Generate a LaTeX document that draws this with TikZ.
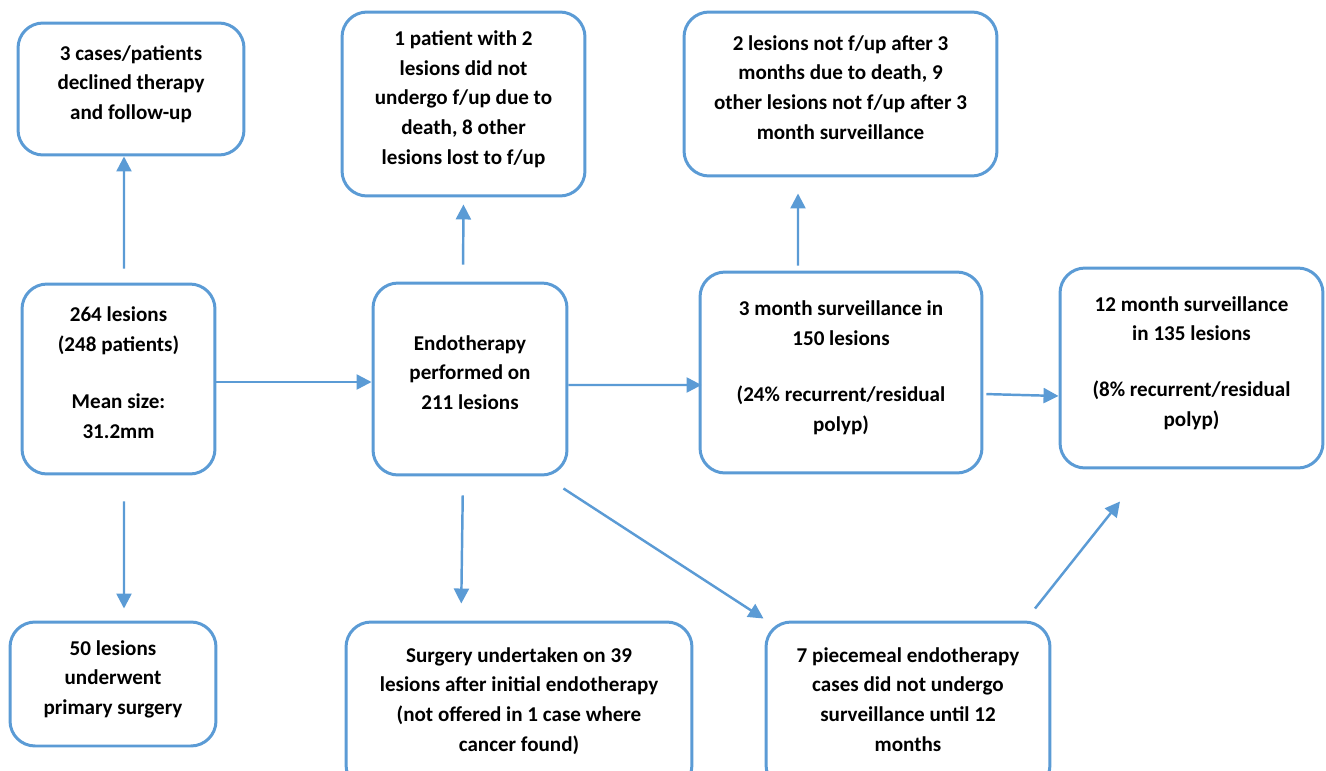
\documentclass[tikz,border=0pt]{standalone}
\usepackage{fontspec}
\setmainfont{Carlito}
\usetikzlibrary{arrows.meta,positioning,calc}
\definecolor{boxblue}{RGB}{91,155,213}

\begin{document}
\begin{tikzpicture}[x=0.02cm, y=-0.02cm,
    box/.style={draw=boxblue, line width=1.7pt, rounded corners=0.5cm, fill=white, align=center,
        text depth=0.26cm, font=\fontsize{12}{17}\selectfont\bfseries},
    arr/.style={-{Triangle[length=0.3cm, width=0.3cm]}, draw=boxblue, line width=1.4pt}]

    \useasboundingbox (0,0) rectangle (1326,771);

    \node[box, minimum width=4.52cm, minimum height=2.64cm] (decl) at (131,89) {3 cases/patients\\declined therapy\\and follow-up};
    \node[box, minimum width=3.86cm, minimum height=3.8cm] (lesions) at (118.5,379) {264 lesions\\(248 patients)\\[0.55cm]Mean size:\\31.2mm};
    \node[box, minimum width=4.12cm, minimum height=2.48cm] (primsurg) at (113,684) {50 lesions\\underwent\\primary surgery};
    \node[box, minimum width=4.86cm, minimum height=3.68cm] (lost) at (463.5,104) {1 patient with 2\\lesions did not\\undergo f/up due to\\death, 8 other\\lesions lost to f/up};
    \node[box, minimum width=3.88cm, minimum height=3.84cm] (endo) at (470,379) {Endotherapy\\performed on\\211 lesions};
    \node[box, minimum width=6.92cm, minimum height=3.36cm] (surg) at (519,706) {Surgery undertaken on 39\\lesions after initial endotherapy\\(not offered in 1 case where\\cancer found)};
    \node[box, minimum width=6.26cm, minimum height=3.28cm] (nofup) at (840.5,94) {2 lesions not f/up after 3\\months due to death, 9\\other lesions not f/up after 3\\month surveillance};
    \node[box, minimum width=5.64cm, minimum height=4.02cm] (three) at (841,372.5) {3 month surveillance in\\150 lesions\\[0.52cm](24\% recurrent/residual\\polyp)};
    \node[box, minimum width=5.26cm, minimum height=4.0cm] (twelve) at (1191.5,368) {12 month surveillance\\in 135 lesions\\[0.52cm](8\% recurrent/residual\\polyp)};
    \node[box, minimum width=5.68cm, minimum height=3.36cm] (piece) at (908,706) {7 piecemeal endotherapy\\cases did not undergo\\surveillance until 12\\months};

    % lesions -> declined
    \draw[arr, shorten <=0.28cm] ([xshift=0.11cm]lesions.north) -- ([xshift=-0.14cm]decl.south);

    % lesions -> primary surgery
    \draw[arr, shorten <=0.52cm, shorten >=0.24cm] ([xshift=0.11cm]lesions.south) -- ([xshift=0.22cm]primsurg.north);

    % lesions -> endotherapy
    \draw[arr] ([yshift=-0.06cm]lesions.east) -- ([yshift=-0.06cm]endo.west);

    % endotherapy -> lost to f/up
    \draw[arr, shorten <=0.34cm, shorten >=0.14cm] ([xshift=-0.14cm]endo.north) -- (lost.south);

    % endotherapy -> surgery
    \draw[arr, shorten <=0.38cm, shorten >=0.34cm] ([xshift=-0.14cm]endo.south) -- ([xshift=-1.16cm]surg.north);

    % endotherapy -> piecemeal
    \draw[arr] ([shift={(-0.1cm,-0.24cm)}]endo.south east) -- ([shift={(-0.02cm,0.04cm)}]piece.north west);

    % endotherapy -> 3 month
    \draw[arr] ([yshift=-0.12cm]endo.east) -- ([shift={(0.06cm,-0.25cm)}]three.west);

    % 3 month -> not f/up
    \draw[arr, shorten <=0.1cm, shorten >=0.32cm] ([xshift=-0.86cm]three.north) -- ([xshift=-0.85cm]nofup.south);

    % 3 month -> 12 month
    \draw[arr, shorten <=0.06cm] ([yshift=-0.43cm]three.east) -- ([yshift=-0.56cm]twelve.west);

    % piecemeal -> 12 month
    \draw[arr] ([shift={(2.54cm,0.24cm)}]piece.north) -- ([shift={(-1.43cm,-0.64cm)}]twelve.south);
\end{tikzpicture}
\end{document}
